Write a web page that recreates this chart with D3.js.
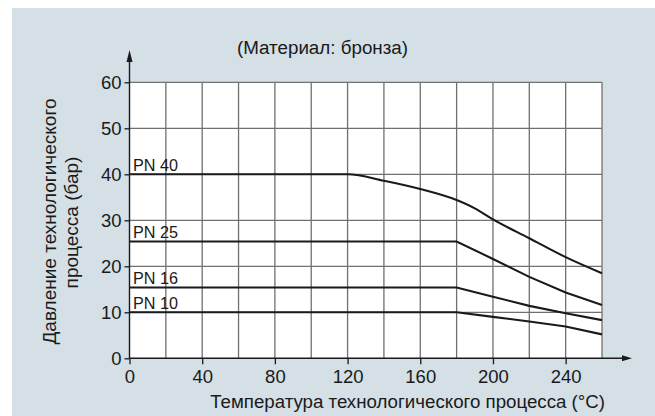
<!DOCTYPE html>
<html>
<head>
<meta charset="utf-8">
<script src="https://cdn.jsdelivr.net/npm/d3@7"></script>
<style>
html,body{margin:0;padding:0;background:#fff;}
svg{display:block;}
text{font-family:"Liberation Sans",Arial,sans-serif;fill:#1a1a1a;}
</style>
</head>
<body>
<svg id="chart" width="655" height="416"></svg>
<script>
// ---- data ----
const xTicks = [0, 40, 80, 120, 160, 200, 240];
const yTicks = [0, 10, 20, 30, 40, 50, 60];
const xGrid = [20, 40, 60, 80, 100, 120, 140, 160, 180, 200, 220, 240, 260];
const yGrid = [10, 20, 30, 40, 50, 60];

const pn40T = [0, 120, 140, 160, 180, 190, 200, 220, 240, 260];
const pn40P = [40, 40, 38.6, 36.8, 34.4, 32.6, 30.2, 26.1, 22.0, 18.5];
const pn25T = [0, 180, 200, 220, 240, 260];
const pn25P = [25.4, 25.4, 21.6, 17.7, 14.3, 11.6];
const pn16T = [0, 180, 200, 220, 240, 260];
const pn16P = [15.4, 15.4, 13.4, 11.4, 9.8, 8.3];
const pn10T = [0, 180, 200, 220, 240, 260];
const pn10P = [10, 10, 9.0, 8.0, 6.9, 5.2];

const seriesNames = ["PN 40", "PN 25", "PN 16", "PN 10"];

const titleText = "(Материал: бронза)";
const xTitle = "Температура технологического процесса (°C)";
const yTitle1 = "Давление технологического";
const yTitle2 = "процесса (бар)";

// ---- layout ----
const svg = d3.select("#chart");
const x = d3.scaleLinear().domain([0, 260]).range([129.5, 602]);
const y = d3.scaleLinear().domain([0, 60]).range([358.3, 82.3]);

svg.append("rect").attr("x", 12).attr("y", 8).attr("width", 643).attr("height", 408).attr("fill", "#d4dfe6");
svg.append("rect").attr("x", x(0)).attr("y", y(60)).attr("width", x(260) - x(0)).attr("height", y(0) - y(60)).attr("fill", "#fff");

// grid
const g = svg.append("g");
g.selectAll("line.vg").data(xGrid).join("line")
  .attr("x1", d => x(d)).attr("x2", d => x(d)).attr("y1", y(0)).attr("y2", y(60))
  .attr("stroke", "#707070").attr("stroke-width", 1.3);
g.selectAll("line.hg").data(yGrid).join("line")
  .attr("x1", x(0)).attr("x2", x(260)).attr("y1", d => y(d)).attr("y2", d => y(d))
  .attr("stroke", "#707070").attr("stroke-width", 1.3);

// series
const series = [
  {T: pn40T, P: pn40P, curve: d3.curveMonotoneX},
  {T: pn25T, P: pn25P, curve: d3.curveLinear},
  {T: pn16T, P: pn16P, curve: d3.curveLinear},
  {T: pn10T, P: pn10P, curve: d3.curveLinear}
];
series.forEach((s, i) => {
  const pts = s.T.map((t, j) => [t, s.P[j]]);
  const line = d3.line().x(d => x(d[0])).y(d => y(d[1])).curve(s.curve);
  svg.append("path").attr("d", line(pts)).attr("fill", "none")
    .attr("stroke", "#1a1a1a").attr("stroke-width", 2.1);
  svg.append("text").attr("x", x(0) + 3.5).attr("y", y(s.P[0]) - 3.5)
    .attr("font-size", 16.2).text(seriesNames[i]);
});

// axes
const xAxis = d3.axisBottom(x).tickValues(xTicks).tickSize(6).tickPadding(6).tickFormat(d3.format("d"));
const yAxis = d3.axisLeft(y).tickValues(yTicks).tickSize(5).tickPadding(3).tickFormat(d3.format("d"));
const gx = svg.append("g").attr("transform", `translate(0,${y(0)})`).call(xAxis);
const gy = svg.append("g").attr("transform", `translate(${x(0)},0)`).call(yAxis);
[gx, gy].forEach(a => {
  a.select(".domain").remove();
  a.selectAll(".tick line").attr("stroke", "#1a1a1a").attr("stroke-width", 1.3);
  a.selectAll(".tick text").attr("font-size", 18.5).attr("font-family", "Liberation Sans, Arial, sans-serif").attr("fill", "#1a1a1a");
});

// axis lines with arrows
svg.append("line").attr("x1", x(0)).attr("x2", 622).attr("y1", y(0)).attr("y2", y(0)).attr("stroke", "#1a1a1a").attr("stroke-width", 1.4);
svg.append("path").attr("d", `M622,${y(0) - 3}L632,${y(0)}L622,${y(0) + 3}Z`).attr("fill", "#1a1a1a");
svg.append("line").attr("x1", x(0)).attr("x2", x(0)).attr("y1", y(0)).attr("y2", 61).attr("stroke", "#1a1a1a").attr("stroke-width", 1.4);
svg.append("path").attr("d", `M${x(0) - 3},62L${x(0)},50L${x(0) + 3},62Z`).attr("fill", "#1a1a1a");

// titles
svg.append("text").attr("x", 322.5).attr("y", 54).attr("text-anchor", "middle").attr("font-size", 18.8).text(titleText);
svg.append("text").attr("x", 605).attr("y", 408).attr("text-anchor", "end").attr("font-size", 18.7).text(xTitle);
svg.append("text").attr("transform", "translate(55.5,221.5) rotate(-90)").attr("text-anchor", "middle").attr("font-size", 19).text(yTitle1);
svg.append("text").attr("transform", "translate(78,222.5) rotate(-90)").attr("text-anchor", "middle").attr("font-size", 19).text(yTitle2);
</script>
</body>
</html>
